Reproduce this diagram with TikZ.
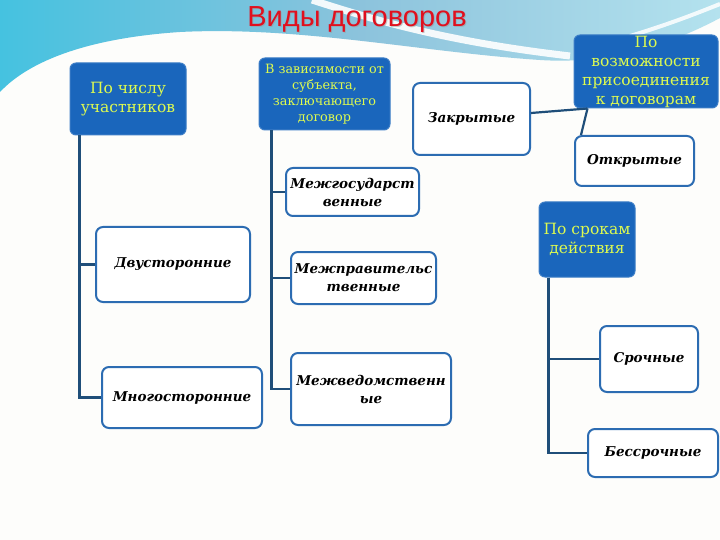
\documentclass[tikz,border=0pt]{standalone}
\usepackage{fontspec}
\setmainfont{DejaVu Serif}
\newfontfamily\titlefont{Liberation Sans}
\definecolor{skyA}{HTML}{45C2E0}
\definecolor{skyB}{HTML}{8CC3DC}
\definecolor{skyC}{HTML}{B4E2EE}
\definecolor{boxblue}{HTML}{1A66BC}
\definecolor{boxtext}{HTML}{DDFA50}
\definecolor{edgeblue}{HTML}{2C6CB2}
\definecolor{linkcol}{HTML}{1F4E79}
\definecolor{titlered}{HTML}{E0101E}
\definecolor{paper}{HTML}{FDFDFB}
\tikzset{
  bluebox/.style={rounded corners=6pt, fill=boxblue, draw=boxblue!85!white, line width=1pt,
    text=boxtext, align=center, inner sep=0pt, font=\fontsize{15.5}{19}\selectfont},
  whitebox/.style={rounded corners=7pt, fill=white, draw=edgeblue, line width=2pt,
    text=black, align=center, inner sep=0pt, font=\fontsize{13.5}{18}\selectfont\bfseries\itshape},
  link/.style={draw=linkcol, line width=2.2pt},
}
\begin{document}
\begin{tikzpicture}[x=1pt,y=-1pt]
\useasboundingbox (0,0) rectangle (720,540);
\fill[paper] (0,0) rectangle (720,540);
% sky
\shade[left color=skyA, right color=skyC, middle color=skyB]
  (0,0) -- (720,0) -- (720,18) .. controls (660,50) and (600,64) .. (540,60)
  .. controls (420,52) and (300,26) .. (180,32) .. controls (90,38) and (30,60) .. (0,92) -- cycle;
\draw[white, line width=7pt, opacity=0.9] (312,0) .. controls (380,22) and (450,42) .. (570,56);
\draw[white, line width=4pt, opacity=0.85] (630,36) .. controls (670,24) and (700,12) .. (720,4);
% title
\node[text=black!40, opacity=0.5, font=\titlefont\fontsize{29}{30}\selectfont] at (358,21) {Виды договоров};
\node[text=titlered, font=\titlefont\fontsize{29}{30}\selectfont] (title) at (357,20) {Виды договоров};
% boxes
\node[bluebox, minimum width=116pt, minimum height=72pt] (num) at (128,99) {По числу\\участников};
\node[bluebox, minimum width=131pt, minimum height=72pt, font=\fontsize{12.8}{16}\selectfont] (subj) at (324.5,94) {В зависимости от\\субъекта,\\заключающего\\договор};
\node[whitebox, minimum width=117pt, minimum height=72pt] (zakr) at (471.5,119) {Закрытые};
\node[bluebox, minimum width=144pt, minimum height=73pt] (poss) at (646,71.5) {По\\возможности\\присоединения\\к договорам};
\node[whitebox, minimum width=119pt, minimum height=50pt] (open) at (634.5,161) {Открытые};
\node[whitebox, minimum width=133pt, minimum height=48pt] (mgos) at (352.5,192) {Межгосударст\\венные};
\node[bluebox, minimum width=96pt, minimum height=75pt] (srok) at (587,239.5) {По срокам\\действия};
\node[whitebox, minimum width=154pt, minimum height=75pt] (dvu) at (173,264.5) {Двусторонние};
\node[whitebox, minimum width=145pt, minimum height=52pt] (mprav) at (363.5,278) {Межправительс\\твенные};
\node[whitebox, minimum width=98pt, minimum height=66pt] (srochn) at (649,359) {Срочные};
\node[whitebox, minimum width=160pt, minimum height=61pt] (mnog) at (182,397.5) {Многосторонние};
\node[whitebox, minimum width=160pt, minimum height=72pt] (mved) at (371,389) {Межведомственн\\ые};
\node[whitebox, minimum width=130pt, minimum height=48pt] (bess) at (653,453) {Бессрочные};
% connectors
\path[link] ([xshift=10pt]num.south west) |- (dvu.west);
\path[link] ([xshift=10pt]num.south west) |- (mnog.west);
\path[link] ([xshift=13pt]subj.south west) |- (mgos.west);
\path[link] ([xshift=13pt]subj.south west) |- (mprav.west);
\path[link] ([xshift=13pt]subj.south west) |- (mved.west);
\path[link] ([xshift=10pt]srok.south west) |- (srochn.west);
\path[link] ([xshift=10pt]srok.south west) |- (bess.west);
\path[link] ([yshift=6pt]zakr.east) -- ([xshift=14pt]poss.south west);
\path[link] ([xshift=14pt]poss.south west) -- ([xshift=7pt]open.north west);
\end{tikzpicture}
\end{document}
